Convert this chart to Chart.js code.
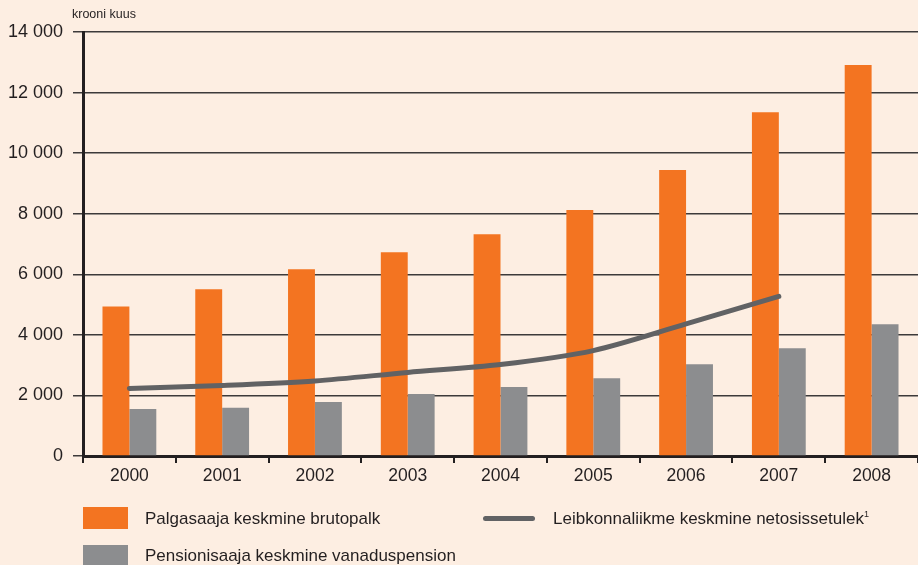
<!DOCTYPE html>
<html>
<head>
<meta charset="utf-8">
<script src="https://cdn.jsdelivr.net/npm/chart.js@4"></script>
<style>
  html, body { margin: 0; padding: 0; background: #fdeee2; }
  body { width: 918px; height: 565px; position: relative; overflow: hidden; font-family: "Liberation Sans", Arial, sans-serif; color: #231f20; }
  #wrap { position: absolute; left: 0; top: 0; width: 918px; height: 565px; }
  .unit { position: absolute; left: 72px; top: 7px; font-size: 12.5px; }
  .lg { position: absolute; font-size: 17px; white-space: nowrap; }
  .box { position: absolute; width: 45px; height: 22px; }
  .lineKey { position: absolute; width: 52px; height: 5px; border-radius: 3px; background: #616264; }
  sup { font-size: 9px; }
</style>
</head>
<body>
<div id="wrap"><canvas id="incomeChart" width="918" height="565"></canvas></div>
<div class="unit">krooni kuus</div>
<div class="box" style="left:83px; top:507px; background:#f37421;"></div>
<div class="lg" style="left:145px; top:509px;">Palgasaaja keskmine brutopalk</div>
<div class="lineKey" style="left:483px; top:516px;"></div>
<div class="lg" style="left:553px; top:509px;">Leibkonnaliikme keskmine netosissetulek<sup>1</sup></div>
<div class="box" style="left:83px; top:545px; background:#8c8d8f;"></div>
<div class="lg" style="left:145px; top:546px;">Pensionisaaja keskmine vanaduspension</div>
<script>
// andmed (krooni kuus)
const years = ["2000", "2001", "2002", "2003", "2004", "2005", "2006", "2007", "2008"];
const grossWage = [4940, 5510, 6170, 6730, 7320, 8120, 9440, 11350, 12910];
const oldAgePension = [1550, 1590, 1780, 2050, 2280, 2570, 3030, 3560, 4350];
const netIncome = [2230, 2330, 2480, 2760, 3020, 3480, 4360, 5270, null];
const yTicks = [0, 2000, 4000, 6000, 8000, 10000, 12000, 14000];

function formatThousands(v) {
  return v === 0 ? "0" : String(v).replace(/\B(?=(\d{3})+(?!\d))/g, " ");
}

new Chart(document.getElementById("incomeChart"), {
  type: "bar",
  data: {
    labels: years,
    datasets: [
      {
        type: "line",
        label: "Leibkonnaliikme keskmine netosissetulek",
        data: netIncome,
        borderColor: "#616264",
        borderWidth: 5,
        borderCapStyle: "round",
        tension: 0.3,
        pointRadius: 0,
        fill: false,
        order: 0,
      },
      {
        label: "Palgasaaja keskmine brutopalk",
        data: grossWage,
        backgroundColor: "#f37421",
        categoryPercentage: 0.58,
        barPercentage: 1,
        order: 1,
      },
      {
        label: "Pensionisaaja keskmine vanaduspension",
        data: oldAgePension,
        backgroundColor: "#8c8d8f",
        categoryPercentage: 0.58,
        barPercentage: 1,
        order: 1,
      },
    ],
  },
  options: {
    responsive: false,
    animation: false,
    layout: { padding: { top: 32, right: 0, bottom: 79, left: 0 } },
    plugins: { legend: { display: false }, tooltip: { enabled: false } },
    scales: {
      x: {
        offset: true,
        afterFit: (s) => { s.height = 30; },
        grid: { offset: true, drawOnChartArea: false, drawTicks: true, tickLength: 7, color: "#231f20", lineWidth: 2 },
        border: { display: true, color: "#231f20", width: 3 },
        ticks: { color: "#231f20", font: { family: "Liberation Sans", size: 17.5 }, padding: 3 },
      },
      y: {
        min: 0,
        max: 14000,
        afterFit: (s) => { s.width = 83; },
        afterBuildTicks: (s) => { s.ticks = yTicks.map((v) => ({ value: v })); },
        grid: { color: "#3d3a3a", lineWidth: 1.5, tickLength: 10, drawTicks: true },
        border: { display: true, color: "#231f20", width: 3 },
        ticks: { color: "#231f20", font: { family: "Liberation Sans", size: 18 }, padding: 10, callback: (v) => formatThousands(v) },
      },
    },
  },
});
</script>
</body>
</html>
